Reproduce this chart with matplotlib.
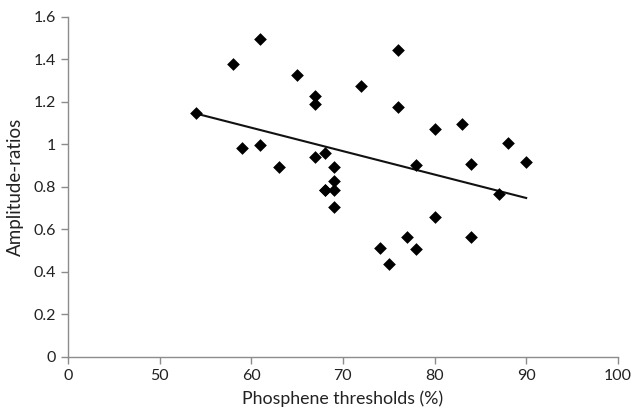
import numpy as np
import matplotlib.pyplot as plt

# phosphene thresholds (%) and amplitude ratios
thresholds = [54, 58, 61, 59, 61, 63, 65, 67, 67, 67, 68, 68, 68, 69, 69, 69, 69,
              72, 74, 75, 76, 76, 77, 78, 78, 80, 80, 83, 84, 84, 87, 88, 90]
ratios = [1.146, 1.38, 1.495, 0.98, 0.995, 0.895, 1.325, 1.225, 1.19, 0.942,
          0.96, 0.785, 0.786, 0.895, 0.828, 0.786, 0.705,
          1.273, 0.51, 0.435, 1.444, 1.174, 0.562, 0.904, 0.508, 1.07, 0.658,
          1.093, 0.909, 0.563, 0.767, 1.008, 0.914]
# the printed x axis jumps from 0 to 50, so "0" sits where 40 would be
xtick_vals = [40, 50, 60, 70, 80, 90, 100]
xtick_labels = ['0', '50', '60', '70', '80', '90', '100']
ytick_vals = [0, 0.2, 0.4, 0.6, 0.8, 1.0, 1.2, 1.4, 1.6]
ytick_labels = ['0', '0.2', '0.4', '0.6', '0.8', '1', '1.2', '1.4', '1.6']

plt.rcParams['font.family'] = ['Lato', 'DejaVu Sans']

fig = plt.figure(figsize=(6.33, 4.11), dpi=100)
ax = fig.add_axes([0.1074, 0.1326, 0.8686, 0.8264])

x = np.array(thresholds, dtype=float)
y = np.array(ratios)
ax.scatter(x, y, marker='D', s=42, color='black', zorder=3, linewidths=0)

# linear trend line over the data range
k, b = np.polyfit(x, y, 1)
xs = np.array([x.min(), x.max()])
ax.plot(xs, k * xs + b, color='#111111', lw=1.5, zorder=2)

ax.set_xlim(40, 100)
ax.set_ylim(0, 1.6)
ax.set_xticks(xtick_vals)
ax.set_xticklabels(xtick_labels)
ax.set_yticks(ytick_vals)
ax.set_yticklabels(ytick_labels)

for s in ['top', 'right']:
    ax.spines[s].set_visible(False)
for s in ['left', 'bottom']:
    ax.spines[s].set_color('#8c8c8c')
    ax.spines[s].set_linewidth(1.0)
ax.tick_params(axis='both', colors='#8c8c8c', length=5, width=1.0,
               labelcolor='#222222', labelsize=11.5)
ax.tick_params(axis='x', pad=4)

ax.set_xlabel('Phosphene thresholds (%)', fontsize=12.8, color='#222222', labelpad=5)
ax.set_ylabel('Amplitude-ratios', fontsize=13.5, color='#222222', labelpad=7)

fig.savefig('out.png', dpi=100)
